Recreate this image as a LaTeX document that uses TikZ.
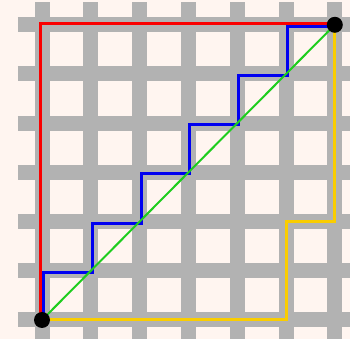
\documentclass[tikz,border=0pt]{standalone}
\usepackage{xcolor}
\usepackage{tikz}
\definecolor{bgcol}{RGB}{255,245,240}
\definecolor{streetcol}{RGB}{178,178,178}
\definecolor{redcol}{RGB}{250,0,0}
\definecolor{bluecol}{RGB}{0,0,240}
\definecolor{greencol}{RGB}{30,205,30}
\definecolor{yellowcol}{RGB}{250,205,0}

\begin{document}
\begin{tikzpicture}[
      x=48.8pt,y=49.2pt,
      street/.style={streetcol,line width=15pt},
      route/.style={line width=3pt,line join=miter},
      dot/.style={circle,fill=black,inner sep=0pt,minimum size=16pt}
    ]
      % frame and background
      \useasboundingbox (-42pt,-19pt) rectangle (308pt,320pt);
      \fill[bgcol] (-42pt,-19pt) rectangle (308pt,320pt);
      % streets
      \foreach \j in {0,...,6}
        \draw[street] (-24pt,\j) -- (308pt,\j);
      \foreach \i in {0,...,6}
        \draw[street] (\i,-19pt) -- (\i,318pt);
      % corners
      \coordinate (start) at (0,0);
      \coordinate (goal) at (6,6);
      % routes
      \draw[route,redcol,transform canvas={shift={(-1.5pt,1.5pt)}}] (start) |- (goal);
      \draw[route,bluecol,transform canvas={shift={(1.5pt,-1.5pt)}}] (start)
        \foreach \k in {1,...,6}{ -- (\k-1,\k) -- (\k,\k) };
      \draw[route,yellowcol] (start) -| (5,2) -| (goal);
      \draw[greencol,line width=2pt] (start) -- (goal);
      \node[dot] (startdot) at (start) {};
      \node[dot] (goaldot) at (goal) {};
    \end{tikzpicture}
\end{document}
